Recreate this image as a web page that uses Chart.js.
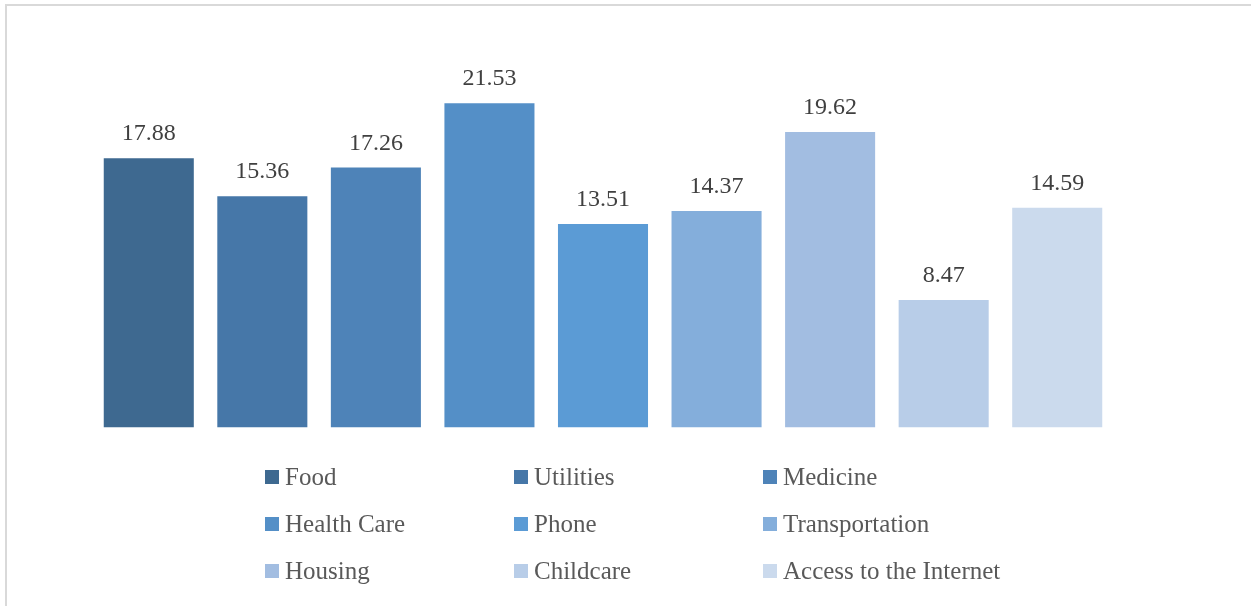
<!DOCTYPE html>
<html>
<head>
<meta charset="utf-8">
<script src="https://cdn.jsdelivr.net/npm/chart.js@4/dist/chart.umd.min.js"></script>
<style>
  body { margin: 0; width: 1251px; height: 606px; overflow: hidden; background: #fff; font-family: "Liberation Serif", serif; }
  #frame { position: absolute; left: 5px; top: 4px; width: 1270px; height: 640px; border: 2px solid #d9d9d9; box-sizing: border-box; }
  #wrap { position: absolute; left: 0; top: 0; width: 1251px; height: 606px; }
  #legend { position: absolute; left: 265px; top: 462px; display: grid; grid-template-columns: 249px 249px 290px; grid-auto-rows: 47px; }
  .item { display: flex; align-items: center; height: 30px; font-size: 25px; color: #595959; }
  .box { width: 14px; height: 14px; margin-right: 6px; flex: none; }
</style>
</head>
<body>
<div id="frame"></div>
<div id="wrap"><canvas id="myChart" width="1251" height="606"></canvas></div>
<div id="legend"></div>
<script>
let kategori = ["Food", "Utilities", "Medicine", "Health Care", "Phone", "Transportation", "Housing", "Childcare", "Access to the Internet"];
let nilai = [17.88, 15.36, 17.26, 21.53, 13.51, 14.37, 19.62, 8.47, 14.59];
let warna = ["#3e6990", "#4677a8", "#4e83b8", "#548fc7", "#5b9bd5", "#84aedb", "#a2bde1", "#b8cde8", "#cbdaed"];

// label angka di atas batang
const labelAtas = {
  id: "labelAtas",
  afterDatasetsDraw(chart) {
    let ctx = chart.ctx;
    ctx.save();
    ctx.font = "24px 'Liberation Serif', serif";
    ctx.fillStyle = "#404040";
    ctx.textAlign = "center";
    ctx.textBaseline = "alphabetic";
    chart.getDatasetMeta(0).data.forEach((bar, i) => {
      ctx.fillText(nilai[i].toFixed(2), bar.x, bar.y - 18);
    });
    ctx.restore();
  }
};

let canvasChart = document.getElementById("myChart");
new Chart(canvasChart, {
  type: "bar",
  data: {
    labels: kategori,
    datasets: [{
      data: nilai,
      backgroundColor: warna,
      borderWidth: 0,
      categoryPercentage: 1,
      barPercentage: 0.793
    }]
  },
  options: {
    responsive: false,
    animation: false,
    layout: { padding: { left: 92, right: 137, top: 51, bottom: 178.5 } },
    scales: {
      x: { display: false },
      y: { display: false, min: 0, max: 25 }
    },
    plugins: {
      legend: { display: false },
      tooltip: { enabled: false }
    }
  },
  plugins: [labelAtas]
});

// legenda 3 kolom
let legend = document.getElementById("legend");
kategori.forEach((k, i) => {
  let item = document.createElement("div");
  item.className = "item";
  let box = document.createElement("span");
  box.className = "box";
  box.style.background = warna[i];
  let txt = document.createElement("span");
  txt.textContent = k;
  item.appendChild(box);
  item.appendChild(txt);
  legend.appendChild(item);
});
</script>
</body>
</html>
